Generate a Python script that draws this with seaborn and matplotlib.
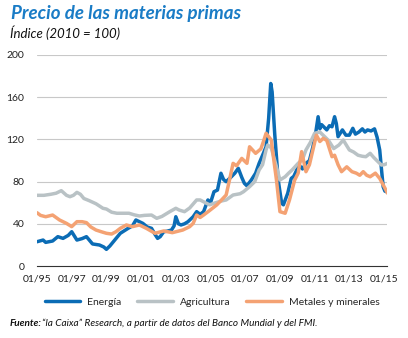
import matplotlib
matplotlib.use("Agg")
import matplotlib.pyplot as plt
import seaborn as sns
import pandas as pd

# ---- data (decimal year, index value) ----
energia_x = [1995.0, 1995.35, 1995.5, 1995.9, 1996.2, 1996.5, 1996.8, 1997.0, 1997.3, 1997.6, 1997.85,
             1998.2, 1998.6, 1998.85, 1999.0, 1999.2, 1999.4, 1999.8, 2000.25, 2000.5, 2000.7, 2000.9,
             2001.1, 2001.35, 2001.6, 2001.8, 2001.95, 2002.1, 2002.3, 2002.5, 2002.75, 2002.9, 2003.0,
             2003.15, 2003.3, 2003.5, 2003.7, 2004.0, 2004.2, 2004.4, 2004.6, 2004.85, 2005.0, 2005.2,
             2005.4, 2005.6, 2005.75, 2005.9, 2006.2, 2006.4, 2006.6, 2006.8, 2006.95, 2007.1, 2007.35,
             2007.6, 2007.8, 2008.0, 2008.2, 2008.35, 2008.47, 2008.55, 2008.7, 2008.9, 2009.1, 2009.2,
             2009.45, 2009.65, 2009.8, 2010.1, 2010.3, 2010.5, 2010.7, 2010.9, 2011.05, 2011.2, 2011.3,
             2011.4, 2011.7, 2011.85, 2012.0, 2012.15, 2012.25, 2012.35, 2012.6, 2012.8, 2013.0, 2013.2,
             2013.35, 2013.55, 2013.75, 2013.9, 2014.05, 2014.25, 2014.45, 2014.6, 2014.75, 2014.85,
             2014.95, 2015.05, 2015.2]
energia_y = [23, 24.6, 22.4, 23.7, 27.8, 26.2, 29, 32.5, 24.6, 26, 27.8,
             20.9, 19.9, 18, 15.8, 19, 23, 31, 35.7, 38, 43.6, 42,
             40.4, 37, 35.7, 30, 26.2, 27.8, 32.5, 33, 34.1, 38, 46.7,
             40, 38.9, 40, 42, 46.7, 51.5, 49, 51.5, 62.6, 60, 70.4,
             72, 87.9, 82, 79.9, 84.6, 88, 92.6, 84, 78.4, 76, 81.5,
             88, 97.3, 105, 113, 140, 173, 165, 125, 81.5, 59.4, 58,
             69, 83, 85, 95.7, 92, 97.3, 100, 113, 125, 141.5, 130,
             134, 129, 133, 132, 141.5, 135, 122.6, 129, 124, 124, 130.5,
             125, 127, 130, 127, 129, 128, 130, 122, 110, 92,
             75, 71, 70]

agri_x = [1995.0, 1995.4, 1995.8, 1996.1, 1996.4, 1996.7, 1996.9, 1997.1, 1997.3, 1997.5, 1997.7,
          1998.0, 1998.4, 1998.8, 1999.0, 1999.3, 1999.6, 2000.0, 2000.3, 2000.6, 2000.9, 2001.2,
          2001.6, 2001.9, 2002.2, 2002.65, 2003.0, 2003.2, 2003.5, 2003.8, 2004.2, 2004.4, 2004.7,
          2004.95, 2005.3, 2005.6, 2005.9, 2006.3, 2006.7, 2006.9, 2007.25, 2007.55, 2007.8, 2008.0,
          2008.2, 2008.3, 2008.5, 2008.8, 2009.0, 2009.3, 2009.5, 2009.7, 2010.05, 2010.3, 2010.5,
          2010.75, 2011.0, 2011.3, 2011.55, 2011.8, 2012.1, 2012.4, 2012.65, 2012.85, 2013.0, 2013.25,
          2013.5, 2013.75, 2013.95, 2014.2, 2014.4, 2014.55, 2014.85, 2015.0, 2015.2]
agri_y = [67, 67, 68, 69, 71.4, 67, 65.7, 67, 69.8, 68, 64,
          62, 59, 54.7, 54, 51, 50, 50, 50, 48.5, 47.4, 48,
          48.3, 45.2, 47, 51.5, 54.7, 53, 51.5, 55, 62.6, 62.6, 60,
          58, 60, 61.5, 62.6, 67.3, 68.5, 70.4, 75.2, 80, 91, 96,
          110, 114.7, 112, 94, 81.5, 84.6, 88, 91, 97.3, 101, 110,
          117, 125.8, 127, 123, 119, 111.3, 114.7, 119.4, 114, 110, 108,
          105, 104, 103.6, 106.8, 103, 100.5, 95.7, 96, 97.3]

metal_x = [1995.0, 1995.2, 1995.5, 1995.9, 1996.3, 1996.7, 1997.0, 1997.3, 1997.6, 1997.85, 1998.1,
           1998.4, 1998.7, 1999.0, 1999.3, 1999.55, 1999.8, 2000.15, 2000.5, 2000.9, 2001.3, 2001.8,
           2002.3, 2002.8, 2003.4, 2003.8, 2004.0, 2004.2, 2004.4, 2004.6, 2004.9, 2005.35, 2005.6,
           2005.9, 2006.1, 2006.3, 2006.5, 2006.8, 2007.1, 2007.25, 2007.6, 2007.9, 2008.05, 2008.2,
           2008.5, 2008.65, 2008.8, 2009.0, 2009.3, 2009.55, 2009.85, 2010.05, 2010.25, 2010.5, 2010.7,
           2010.9, 2011.1, 2011.3, 2011.5, 2011.7, 2012.0, 2012.15, 2012.35, 2012.55, 2012.85, 2013.15,
           2013.4, 2013.6, 2013.8, 2014.0, 2014.2, 2014.5, 2014.75, 2015.05, 2015.2]
metal_y = [50.5, 48, 46.7, 48.3, 43.6, 40.4, 37.3, 42, 42, 41.1, 37,
           34.1, 32.5, 31, 30.3, 32.5, 35.7, 38.9, 37.3, 38.9, 35.7, 31,
           33.2, 31.6, 34.1, 37.3, 40.4, 48.3, 46, 48.3, 52, 57.8, 62,
           67.3, 82, 97.3, 95, 102, 97.3, 113, 106.8, 111, 118, 125.8,
           119.4, 100, 81.5, 51.5, 50, 62.6, 81.5, 88, 108.4, 89.4, 96,
           110, 124, 118, 121, 119, 103.6, 105, 96, 89.4, 94, 89.4,
           88, 86, 89.4, 86, 84.6, 88, 83, 73.8, 69]

series_names = ["Energía", "Agricultura", "Metales y minerales"]
tick_years = list(range(1995, 2016, 2))
tick_labels = ["01/95", "01/97", "01/99", "01/01", "01/03", "01/05", "01/07", "01/09", "01/11", "01/13", "01/15"]
y_ticks = [0, 40, 80, 120, 160, 200]

df = pd.concat([
    pd.DataFrame({"x": energia_x, "y": energia_y, "serie": series_names[0]}),
    pd.DataFrame({"x": agri_x, "y": agri_y, "serie": series_names[1]}),
    pd.DataFrame({"x": metal_x, "y": metal_y, "serie": series_names[2]}),
], ignore_index=True)

sns.set_theme(style="white")
plt.rcParams["font.family"] = ["Lato", "DejaVu Sans"]

palette = {"Energía": "#0b6cb5", "Agricultura": "#b9c2c5", "Metales y minerales": "#f4a273"}

fig = plt.figure(figsize=(4.08, 3.38), dpi=100)
ax = fig.add_axes([37 / 408, 72 / 338, 350 / 408, 211 / 338])

for name in series_names:
    sns.lineplot(data=df[df.serie == name], x="x", y="y", color=palette[name], lw=2.5,
                 ax=ax, label=name, legend=False, estimator=None, sort=False)

ax.set_xlim(1995.0, 2015.17)
ax.set_ylim(0, 200)
ax.set_yticks(y_ticks)
ax.set_yticklabels([str(v) for v in y_ticks], fontsize=7.5, color="#222222")
ax.set_xticks(tick_years)
ax.set_xticklabels(tick_labels, fontsize=7.5, color="#222222")
ax.set_xlabel("")
ax.set_ylabel("")
for v in y_ticks[1:]:
    ax.axhline(v, color="#c8c8c8", lw=0.8, zorder=0)
for s in ["top", "right", "left"]:
    ax.spines[s].set_visible(False)
ax.spines["bottom"].set_color("#333333")
ax.spines["bottom"].set_linewidth(0.8)
ax.tick_params(axis="x", direction="in", length=3, width=0.8, color="#333333", pad=6)
ax.tick_params(axis="y", length=0, pad=9)
ax.grid(False)

handles, labels = ax.get_legend_handles_labels()
fig.legend(handles, labels, loc="center", bbox_to_anchor=(0.52, 1 - 302 / 338), ncol=3,
           frameon=False, fontsize=7.5, handlelength=3.4, handletextpad=0.7, columnspacing=1.5)

fig.text(11 / 408, 1 - 14 / 338, "Precio de las materias primas", fontsize=13.5, fontweight="bold",
         fontstyle="italic", color="#1a7cc6", va="center", ha="left")
fig.text(10 / 408, 1 - 33 / 338, "Índice (2010 = 100)", fontsize=9.5, fontstyle="italic",
         color="#111111", va="center", ha="left")
fig.text(10 / 408, 1 - 323 / 338, "Fuente:", fontsize=7.2, fontweight="bold", fontstyle="italic",
         color="#111111", va="center", ha="left")
fig.text(42 / 408, 1 - 323 / 338, "“la Caixa” Research, a partir de datos del Banco Mundial y del FMI.",
         fontsize=7.2, fontstyle="italic", color="#111111", va="center", ha="left")

fig.savefig("out.png", dpi=100)
